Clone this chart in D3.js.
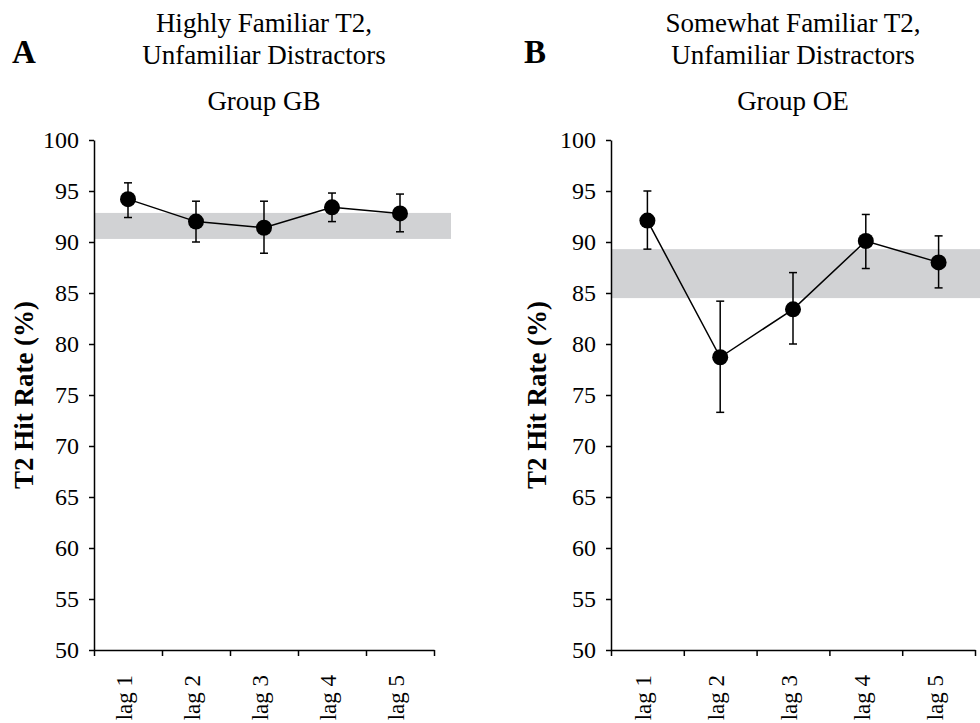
<!DOCTYPE html>
<html>
<head>
  <meta charset="utf-8">
  <script src="https://d3js.org/d3.v7.min.js"></script>
  <style>
    body { margin: 0; background: #fff; }
    text { font-family: "Liberation Serif", "Times New Roman", serif; fill: #000; }
  </style>
</head>
<body>
<div id="chart"></div>
<script>
  // lags on the x axis
  const lags = ["lag 1", "lag 2", "lag 3", "lag 4", "lag 5"];
  const yTicks = [50, 55, 60, 65, 70, 75, 80, 85, 90, 95, 100];

  // panel A - Group GB
  const hitA = [94.2, 92.0, 91.4, 93.4, 92.8];
  const upA = [95.8, 94.0, 94.0, 94.8, 94.7];
  const lowA = [92.4, 90.0, 88.9, 92.0, 91.0];
  const bandA = [90.3, 92.85];

  // panel B - Group OE
  const hitB = [92.1, 78.7, 83.4, 90.1, 88.0];
  const upB = [95.0, 84.2, 87.0, 92.7, 90.6];
  const lowB = [89.3, 73.3, 80.0, 87.4, 85.5];
  const bandB = [84.5, 89.3];

  const width = 980, height = 723;

  const svg = d3.select("#chart")
    .append("svg")
    .attr("width", width)
    .attr("height", height);

  const y = d3.scaleLinear().domain([50, 100]).range([650, 140]);

  function panel(opts) {
    const x = d3.scaleBand()
      .domain(lags)
      .range([opts.left, opts.right]);

    const g = svg.append("g");

    // grey reference band (runs a bit past the axis end)
    g.append("rect")
      .attr("x", opts.left)
      .attr("y", y(opts.band[1]))
      .attr("width", Math.min(width, opts.right + x.bandwidth() / 4) - opts.left)
      .attr("height", y(opts.band[0]) - y(opts.band[1]))
      .attr("fill", "#d1d2d4");

    // y axis
    const yAxis = g.append("g")
      .attr("transform", `translate(${opts.left},0)`)
      .call(d3.axisLeft(y).tickValues(yTicks).tickSize(5).tickSizeOuter(0).tickPadding(10));
    yAxis.select(".domain").attr("stroke", "#000").attr("stroke-width", 1.5);
    yAxis.selectAll(".tick line").attr("stroke", "#000").attr("stroke-width", 1.5);
    yAxis.selectAll("text")
      .style("font-size", "24px")
      .style("font-family", "Liberation Serif, Times New Roman, serif")
      .attr("fill", "#000");

    // x axis with ticks at the category edges
    const xEdge = d3.scaleLinear().domain([0, lags.length]).range(x.range());
    const xAxis = g.append("g")
      .attr("transform", "translate(0,650)")
      .call(d3.axisBottom(xEdge).ticks(lags.length).tickFormat("").tickSize(6).tickSizeOuter(0));
    xAxis.select(".domain").attr("stroke", "#000").attr("stroke-width", 1.5);
    xAxis.selectAll(".tick line").attr("stroke", "#000").attr("stroke-width", 1.5);

    // rotated category labels
    g.selectAll(".lag")
      .data(lags)
      .join("text")
      .attr("class", "lag")
      .attr("transform", d => `translate(${x(d) + x.bandwidth() / 2 + 4},675) rotate(-90)`)
      .attr("text-anchor", "end")
      .style("font-size", "23px")
      .text(d => d);

    // error bars
    const cx = d => x(d) + x.bandwidth() / 2;
    const eb = g.selectAll(".err")
      .data(lags)
      .join("g")
      .attr("class", "err");
    eb.append("line")
      .attr("x1", cx).attr("x2", cx)
      .attr("y1", (d, i) => y(opts.up[i]))
      .attr("y2", (d, i) => y(opts.low[i]))
      .attr("stroke", "#000").attr("stroke-width", 1.5);
    eb.append("line")
      .attr("x1", d => cx(d) - 4).attr("x2", d => cx(d) + 4)
      .attr("y1", (d, i) => y(opts.up[i]))
      .attr("y2", (d, i) => y(opts.up[i]))
      .attr("stroke", "#000").attr("stroke-width", 1.5);
    eb.append("line")
      .attr("x1", d => cx(d) - 4).attr("x2", d => cx(d) + 4)
      .attr("y1", (d, i) => y(opts.low[i]))
      .attr("y2", (d, i) => y(opts.low[i]))
      .attr("stroke", "#000").attr("stroke-width", 1.5);

    // mean line
    const line = d3.line()
      .x((v, i) => cx(lags[i]))
      .y(v => y(v));
    g.append("path")
      .datum(opts.hit)
      .attr("d", line)
      .attr("fill", "none")
      .attr("stroke", "#000")
      .attr("stroke-width", 1.5);

    // markers
    g.selectAll(".pt")
      .data(opts.hit)
      .join("circle")
      .attr("class", "pt")
      .attr("cx", (v, i) => cx(lags[i]))
      .attr("cy", v => y(v))
      .attr("r", 8)
      .attr("fill", "#000");

    // y axis title
    g.append("text")
      .attr("transform", `translate(${opts.labelX},395) rotate(-90)`)
      .attr("text-anchor", "middle")
      .style("font-size", "27px")
      .style("font-weight", "bold")
      .text("T2 Hit Rate (%)");

    // titles
    const mid = (opts.left + opts.right) / 2;
    opts.title.forEach((t, i) => {
      g.append("text")
        .attr("x", mid)
        .attr("y", [32, 64, 110][i])
        .attr("text-anchor", "middle")
        .style("font-size", "27px")
        .text(t);
    });

    // panel letter
    g.append("text")
      .attr("x", opts.letterX)
      .attr("y", 63)
      .style("font-size", "33px")
      .style("font-weight", "bold")
      .text(opts.letter);
  }

  panel({
    left: 94, right: 434, hit: hitA, up: upA, low: lowA, band: bandA,
    labelX: 33, letterX: 12, letter: "A",
    title: ["Highly Familiar T2,", "Unfamiliar Distractors", "Group GB"]
  });

  panel({
    left: 611, right: 975, hit: hitB, up: upB, low: lowB, band: bandB,
    labelX: 546, letterX: 524, letter: "B",
    title: ["Somewhat Familiar T2,", "Unfamiliar Distractors", "Group OE"]
  });
</script>
</body>
</html>
